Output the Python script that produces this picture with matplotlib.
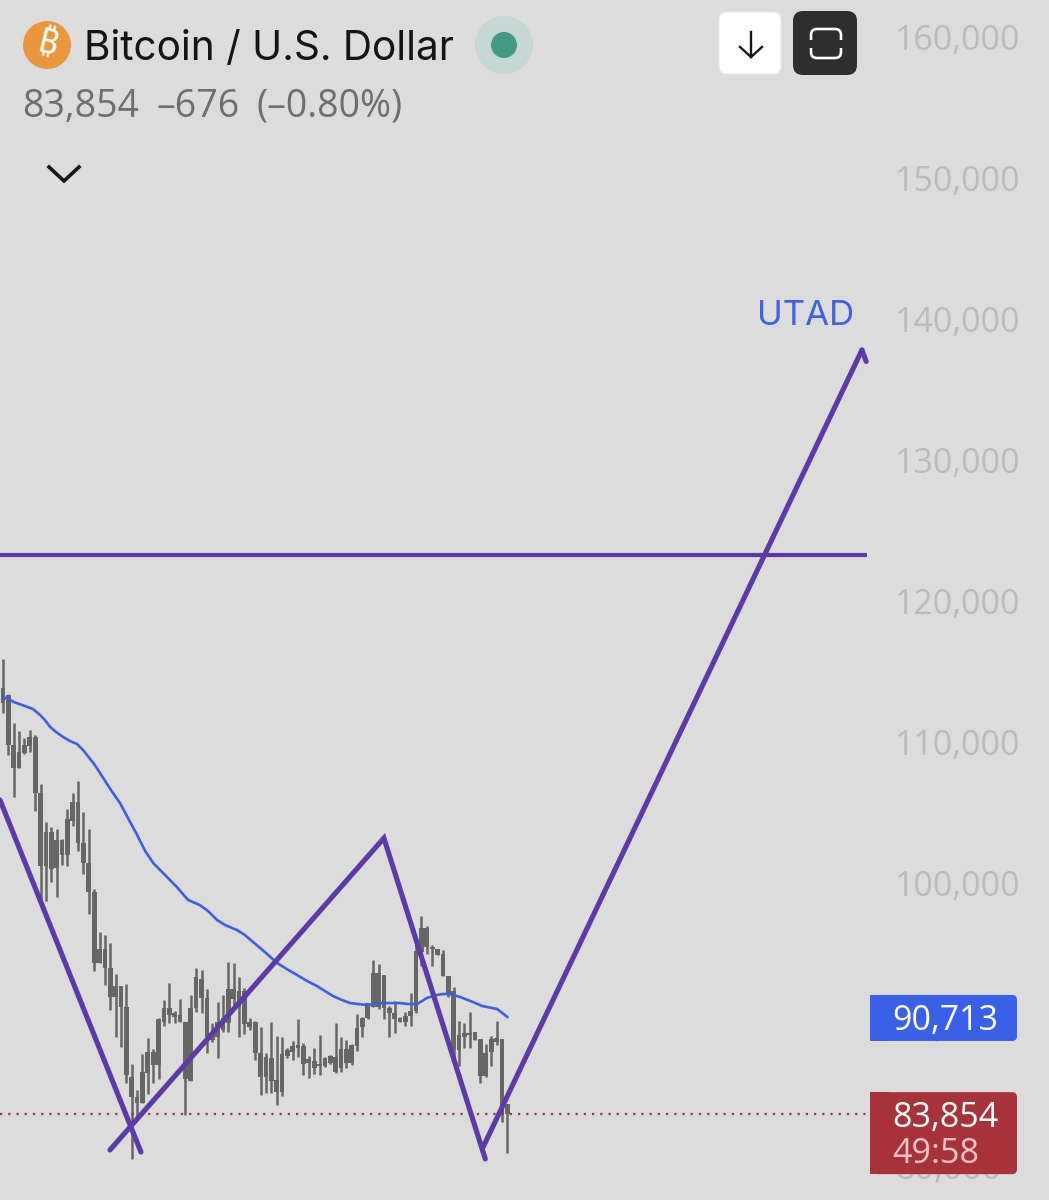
import matplotlib
matplotlib.use("Agg")
import matplotlib.pyplot as plt
from matplotlib.patches import Circle, FancyBboxPatch, Rectangle, PathPatch
from matplotlib.path import Path

plt.rcParams['font.family'] = ['Inter', 'DejaVu Sans']

# daily candles, oldest first
highs = [116100, 113620, 111560, 110990, 110500, 111060, 110710, 107230, 104540, 104180,
         104040, 103330, 105460, 106600, 107450, 105250, 104040, 99790, 96740, 96520,
         95960, 93760, 92910, 93050, 87380, 85530, 88090, 89220, 88440, 90640,
         91910, 93120, 91130, 91990, 90350, 92270, 94180, 94040, 92700, 90280,
         91770, 92270, 94610, 94540, 93550, 92770, 90640, 90430, 90000, 88160,
         90350, 89360, 89290, 88510, 89010, 90570, 88870, 87940, 88510, 89430,
         87870, 88010, 90280, 89290, 89080, 88790, 90920, 90710, 91700, 94750,
         94470, 93690, 91490, 91840, 90710, 91060, 92410, 96030, 97870, 97160,
         95820, 95530, 95460, 93620, 92840, 90430, 90280, 91060, 89650, 89150,
         88790, 89360, 90430, 89150, 84540]
lows = [112270, 109290, 106310, 108370, 109360, 109500, 105320, 99010, 98940, 100280,
        99220, 101490, 101420, 104250, 102480, 100850, 98010, 93970, 94540, 92980,
        91210, 89290, 88580, 86030, 80640, 83400, 84610, 85250, 86030, 86310,
        90070, 90280, 90280, 90350, 83760, 86170, 91060, 90990, 88160, 88940,
        87800, 89650, 89650, 91420, 89290, 89500, 89790, 87660, 85180, 85320,
        85320, 84470, 85110, 87800, 87660, 87870, 86600, 86380, 86670, 86600,
        87160, 87380, 86740, 86810, 87090, 87300, 88300, 89290, 90570, 91420,
        91280, 90570, 89290, 89570, 90350, 90070, 90070, 90990, 94330, 95180,
        94330, 95110, 93620, 92130, 87450, 87230, 88510, 88510, 89080, 86030,
        86450, 87230, 88720, 83260, 81060]
body_tops = [114040, 113550, 110000, 109500, 110000, 110570, 110570, 106600, 103830, 103830,
             103260, 103260, 104750, 105960, 105960, 103050, 101630, 99570, 95530, 95530,
             94180, 92910, 92910, 91420, 86450, 85040, 86810, 88230, 88230, 90570,
             91350, 91350, 90990, 90850, 90350, 91350, 93550, 93400, 92060, 89570,
             90350, 90640, 92700, 92700, 92550, 92550, 90350, 90350, 88160, 87870,
             87800, 86240, 88090, 88370, 88650, 88720, 88650, 87730, 87590, 87380,
             87800, 87940, 87870, 88440, 88440, 88720, 89930, 90640, 91700, 93830,
             93830, 93690, 91350, 90990, 90640, 90780, 91130, 95390, 97020, 97020,
             95670, 95530, 95180, 93620, 92550, 89430, 89570, 89570, 89650, 89150,
             88160, 89150, 89220, 89150, 84540]
body_bottoms = [112980, 110000, 108370, 108370, 109430, 109930, 106600, 101420, 101420, 101200,
                101280, 102200, 102200, 104610, 103050, 101630, 99570, 94540, 94540, 94180,
                92130, 92130, 91420, 86600, 85040, 84610, 84610, 86740, 87300, 87300,
                90350, 90850, 90710, 90350, 86310, 86170, 91350, 92060, 89290, 89080,
                89290, 89790, 90280, 91990, 91420, 90210, 90000, 88160, 86450, 86450,
                86170, 85390, 85390, 87940, 88230, 88510, 87380, 87450, 87090, 87230,
                87230, 87450, 86810, 87090, 87450, 87450, 88650, 90000, 90640, 91420,
                91420, 91350, 90990, 90570, 90350, 90350, 90780, 91130, 95320, 95670,
                95530, 95110, 93620, 92340, 88370, 88370, 89290, 89430, 89080, 86520,
                86520, 88230, 88940, 83900, 83854]

# moving average, sampled along the candles
ma_bars = [0, 1, 2, 5.6, 6.9, 7.8, 8.8, 9.9, 11.2, 12.5, 13.8, 14.9, 15.8, 17, 18.1, 19.4,
           20.5, 21.8, 23.3, 25, 26.5, 28, 30.2, 32.4, 34.5, 36.7, 38.2, 39.9, 41.4, 43.6,
           45.1, 46.6, 48.8, 51.1, 52.9, 54.8, 56.7, 58.5, 60, 61.5, 63.2, 64.7, 66.2, 67.8,
           69.3, 70.8, 72.5, 74, 75.5, 77.2, 78.1, 79, 80.9, 82, 83.3, 85.2, 87.6, 89.3, 92.1, 94]
ma_values = [113400, 113260, 113050, 112550, 112130, 111770, 111280, 110920, 110570, 110280,
             110070, 109650, 109220, 108650, 108010, 107230, 106600, 105890, 104820, 103620,
             102480, 101630, 100780, 99930, 99010, 98650, 98230, 97590, 97230, 96880,
             96520, 96030, 95320, 94540, 94110, 93690, 93260, 92910, 92550, 92200,
             91910, 91700, 91630, 91560, 91630, 91700, 91700, 91700, 91630, 91630,
             91840, 92060, 92270, 92340, 92340, 92130, 91770, 91490, 91280, 90713]

# hand drawn analysis lines (bar, price)
drop_line = [(-0.56, 106100), (25.72, 81130)]
zigzag_line = [(19.94, 81280), (71.0, 103400), (89.9, 80640)]
markup_line = [(89.5, 81490), (160.1, 138010)]
arrow_barb = [(160.1, 138010), (160.9, 137200)]
resistance = 123470
resistance_end = 161.0

last_price = 83854
ma_last = 90713

tick_values = [160000, 150000, 140000, 130000, 120000, 110000, 100000, 90000, 80000]
tick_labels = ['160,000', '150,000', '140,000', '130,000', '120,000', '110,000', '100,000', '90,000', '80,000']

BG = '#dcdcdc'
CANDLE = '#666666'
PURPLE = '#5e3aa8'
BLUE = '#3f5fdc'
NUM_FONT = ['Open Sans', 'DejaVu Sans']

fig = plt.figure(figsize=(10.49, 12), dpi=100, facecolor=BG)
ax = fig.add_axes([0, 0, 1, 1], facecolor=BG)
ax.set_xlim(-0.559, 194.97)
ax.set_ylim(77731, 162835)
ax.set_xticks([])
ax.set_yticks([])
for s in ax.spines.values():
    s.set_visible(False)

# price scale, labels start at one left edge and the lower ones end up behind the tags
for v, lab in zip(tick_values, tick_labels):
    ax.annotate(lab, (1, v), xycoords=ax.get_yaxis_transform(), xytext=(-110.9, 1.8),
                textcoords='offset points', ha='left', va='center_baseline',
                fontsize=24.5, family=NUM_FONT, color='#bcbcbc', zorder=1)

bars = list(range(len(highs)))
ax.vlines(bars, lows, highs, color=CANDLE, linewidth=1.8, zorder=2)
ax.bar(bars, [t - b for t, b in zip(body_tops, body_bottoms)], bottom=body_bottoms,
       width=0.88, color=CANDLE, zorder=2)

ax.plot(ma_bars, ma_values, color=BLUE, linewidth=1.9, solid_joinstyle='round', zorder=3)

ax.plot([-0.56, 161.4], [last_price, last_price], color='#a03535', linewidth=1.6,
        linestyle=(0, (1, 2.7)), zorder=3)

for pts in (drop_line, zigzag_line, markup_line, arrow_barb):
    ax.plot([p[0] for p in pts], [p[1] for p in pts], color=PURPLE, linewidth=3.7,
            solid_capstyle='round', solid_joinstyle='miter', zorder=4)
ax.plot([-0.56, resistance_end], [resistance, resistance], color=PURPLE, linewidth=3.0,
        solid_capstyle='butt', zorder=4)

# header and buttons live on a pixel grid
ui = fig.add_axes([0, 0, 1, 1], facecolor='none')
ui.set_xlim(0, 1049)
ui.set_ylim(1200, 0)
ui.axis('off')


def price_y(price):
    return 1200 - ax.transData.transform((0, price))[1]


def tag(price, top, bottom, color):
    y = price_y(price)
    ui.add_patch(FancyBboxPatch((874, y - top), 143, top + bottom,
                                boxstyle='round,pad=0,rounding_size=5', fc=color, ec='none', zorder=5))
    ui.add_patch(Rectangle((870, y - top), 20, top + bottom, fc=color, ec='none', zorder=5))
    return y


y = tag(ma_last, 22, 24, '#3860e8')
ui.text(892, y, '90,713', color='white', fontsize=24.5, family=NUM_FONT, ha='left', va='center_baseline', zorder=6)
y = tag(last_price, 21.5, 60.5, '#a8323a')
ui.text(892, y, '83,854', color='white', fontsize=24.5, family=NUM_FONT, ha='left', va='center_baseline', zorder=6)
ui.text(892, y + 36.5, '49:58', color='#f3c4c6', fontsize=24.5, family=NUM_FONT, ha='left', va='center_baseline', zorder=6)

ui.text(757, 325, 'UTAD', color='#3e62e0', fontsize=25, ha='left', va='baseline')

ui.add_patch(Circle((47, 45), 24, fc='#ea983c', ec='none'))
ui.text(47, 45, '\u20bf', color='white', fontsize=25, fontweight='bold',
        family=['Noto Sans', 'Roboto', 'Open Sans', 'Lato', 'Liberation Sans', 'Noto Sans CJK SC', 'Inter'],
        ha='center', va='center', rotation=-14)
ui.text(84, 60, 'Bitcoin / U.S. Dollar', color='#141414', fontsize=29.2, ha='left', va='baseline')
ui.add_patch(Circle((504, 45), 29, fc='#c5d8d5', ec='none'))
ui.add_patch(Circle((504, 45), 13, fc='#439a85', ec='none'))

# last price, change and percent sit apart in the header
for sub_x, sub in zip([22, 157, 257], ['83,854', '\u2013676', '(\u20130.80%)']):
    ui.text(sub_x, 117, sub, color='#6e6e6e', fontsize=27, family=NUM_FONT, ha='left', va='baseline')

# collapse chevron
ui.plot([49, 64, 79], [167, 181, 167], color='#141414', linewidth=2.6, solid_joinstyle='miter')

# scroll button
ui.add_patch(FancyBboxPatch((719, 12), 62, 62, boxstyle='round,pad=0,rounding_size=8', fc='white', ec='#ececec', lw=1))
ui.plot([751, 751], [32, 57], color='#141414', linewidth=1.7)
ui.plot([740, 751, 762], [47, 57, 47], color='#141414', linewidth=1.7, solid_joinstyle='miter')

# fullscreen button
ui.add_patch(FancyBboxPatch((793, 11), 64, 64, boxstyle='round,pad=0,rounding_size=10', fc='#2e2e2e', ec='none'))
codes = [Path.MOVETO, Path.LINETO, Path.CURVE3, Path.CURVE3, Path.LINETO, Path.CURVE3, Path.CURVE3, Path.LINETO]
top = Path([(811, 40), (811, 35), (811, 29), (817, 29), (835, 29), (841, 29), (841, 35), (841, 40)], codes)
bottom = Path([(811, 48), (811, 52), (811, 58), (817, 58), (835, 58), (841, 58), (841, 52), (841, 48)], codes)
ui.add_patch(PathPatch(top, fc='none', ec='white', lw=1.9))
ui.add_patch(PathPatch(bottom, fc='none', ec='white', lw=1.9))

fig.savefig('out.png', dpi=100, facecolor=BG)
